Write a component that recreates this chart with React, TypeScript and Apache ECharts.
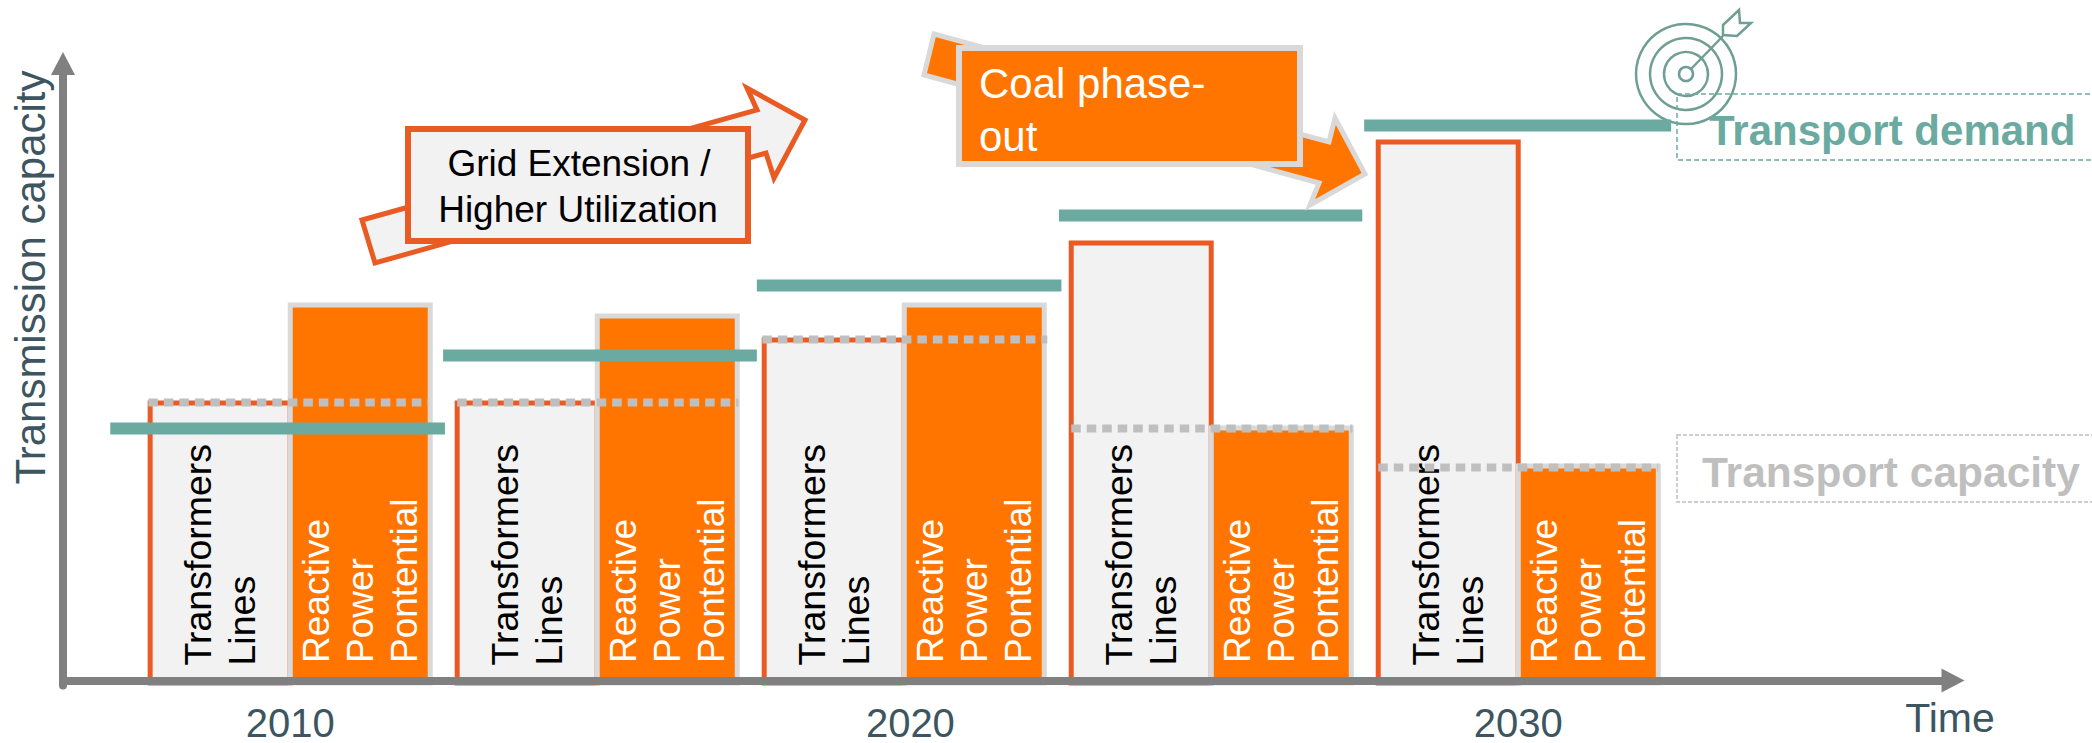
import React, { useEffect, useRef } from "react";
import * as echarts from "echarts";

const groupYears = [2010, 2015, 2020, 2025, 2030];
const lineValues = [285, 285, 348, 445, 546];
const reactiveValues = [383, 372, 383, 260, 222];
const lineLabels = ["Transformers\nLines", "Transformers\nLines", "Transformers\nLines", "Transformers\nLines", "Transformers\nLines"];
const reactiveLabels = [
  "Reactive\nPower\nPontential",
  "Reactive\nPower\nPontential",
  "Reactive\nPower\nPontential",
  "Reactive\nPower\nPontential",
  "Reactive\nPower\nPotential",
];
const demandValues = [257, 330, 400, 470, 560];
const demandFrom = [2007.07, 2012.49, 2017.6, 2022.52, 2027.49];
const demandTo = [2012.52, 2017.6, 2022.56, 2027.46, 2032.49];
const capacityValues = [283, 283, 346, 257, 218];
const capacityFrom = [2007.69, 2012.72, 2017.69, 2022.72, 2027.72];
const capacityTo = [2012.25, 2017.3, 2022.33, 2027.3, 2032.28];
const yearTicks = [2010, 2020.1, 2030];
const xName = "Time";
const yName = "Transmission capacity";

const segments = (from: number[], to: number[], vals: number[]) => {
  const out: (number | null)[][] = [];
  vals.forEach((v, i) => {
    out.push([from[i], v], [to[i], v], [to[i], null]);
  });
  return out;
};

const RED = "#EA5B24";
const ORANGE = "#FF7500";
const LIGHT = "#F2F2F2";
const BORDER = "#D9D9D9";
const TEAL = "#6BAAA0";
const GREY = "#BFBFBF";
const AXIS = "#808080";
const INK = "#3D5560";
const ICON = "#6F9E94";
const FONT = "'Liberation Sans', Arial, sans-serif";

const targetRing = (r: number) => ({
  type: "circle",
  shape: { cx: 1686, cy: 74, r },
  style: { fill: r === 50 ? "#fff" : "transparent", stroke: ICON, lineWidth: 2.5 },
});

const graphics: any[] = [
  { type: "rect", z: 1, shape: { x: 1677, y: 94, width: 430, height: 66 }, style: { fill: "transparent", stroke: TEAL, lineWidth: 1.5, lineDash: [5, 3] } },
  { type: "rect", z: 1, shape: { x: 1677, y: 435, width: 430, height: 67 }, style: { fill: "transparent", stroke: GREY, lineWidth: 1.5, lineDash: [4, 2] } },
  {
    type: "group", z: 2,
    children: [
      targetRing(50), targetRing(36), targetRing(22), targetRing(7),
      { type: "line", shape: { x1: 1691, y1: 69, x2: 1723, y2: 36 }, style: { stroke: ICON, lineWidth: 2.5 } },
      { type: "polygon", shape: { points: [[1723, 25], [1739, 10], [1740, 23], [1751, 23], [1737, 36], [1723, 35]] }, style: { fill: "#fff", stroke: ICON, lineWidth: 2.5 } },
    ],
  },
  { type: "text", z: 30, style: { x: 1709, y: 130, text: "Transport demand", fill: TEAL, font: `bold 42px ${FONT}`, verticalAlign: "middle", textAlign: "left" } },
  { type: "text", z: 30, style: { x: 1702, y: 472, text: "Transport capacity", fill: GREY, font: `bold 42.5px ${FONT}`, verticalAlign: "middle", textAlign: "left" } },
  {
    type: "polygon", z: 20,
    shape: { points: [[362, 220], [757, 110], [747, 88], [805, 120], [774, 178], [766, 153], [375, 263]] },
    style: { fill: LIGHT, stroke: RED, lineWidth: 5 },
  },
  { type: "rect", z: 21, shape: { x: 408, y: 129, width: 340, height: 112 }, style: { fill: LIGHT, stroke: RED, lineWidth: 6 } },
  { type: "text", z: 22, style: { x: 579, y: 163, text: "Grid Extension /", fill: "#000", font: `37px ${FONT}`, textAlign: "center", verticalAlign: "middle" } },
  { type: "text", z: 22, style: { x: 578, y: 209, text: "Higher Utilization", fill: "#000", font: `37px ${FONT}`, textAlign: "center", verticalAlign: "middle" } },
  {
    type: "polygon", z: 20,
    shape: { points: [[934, 34], [1329, 142], [1335, 118], [1365, 174], [1310, 205], [1319, 183], [924, 75]] },
    style: { fill: ORANGE, stroke: BORDER, lineWidth: 5 },
  },
  { type: "rect", z: 21, shape: { x: 959, y: 48, width: 341, height: 116 }, style: { fill: ORANGE, stroke: BORDER, lineWidth: 6 } },
  { type: "text", z: 22, style: { x: 979, y: 83, text: "Coal phase-", fill: "#fff", font: `42px ${FONT}`, textAlign: "left", verticalAlign: "middle" } },
  { type: "text", z: 22, style: { x: 979, y: 136, text: "out", fill: "#fff", font: `42px ${FONT}`, textAlign: "left", verticalAlign: "middle" } },
];

const option: any = {
  animation: false,
  backgroundColor: "#fff",
  textStyle: { fontFamily: FONT },
  grid: { left: 63, right: 2092 - 1953, top: 63.5, bottom: 57.5, containLabel: false },
  xAxis: {
    type: "value",
    min: 2006.3,
    max: 2037.08,
    z: 10,
    offset: -5,
    name: xName,
    nameLocation: "end",
    nameGap: -3,
    nameTextStyle: { color: INK, fontSize: 41, fontFamily: FONT, align: "center", verticalAlign: "top", padding: [17, 0, 0, 0] },
    axisLine: { show: true, onZero: false, symbol: ["none", "triangle"], symbolSize: [24, 23], lineStyle: { color: AXIS, width: 8 } },
    axisTick: { show: false },
    splitLine: { show: false },
    axisLabel: {
      customValues: yearTicks,
      formatter: (v: number) => String(Math.round(v)),
      color: INK,
      fontSize: 40,
      lineHeight: 32,
      fontFamily: FONT,
      margin: 26,
    },
  },
  yAxis: {
    type: "value",
    min: 0,
    max: 622,
    z: 10,
    name: yName,
    nameLocation: "end",
    nameRotate: 90,
    nameGap: -7,
    nameTextStyle: { color: INK, fontSize: 42, fontFamily: FONT, align: "right", verticalAlign: "bottom", padding: [0, 0, 12, 0] },
    axisLine: { show: true, symbol: ["none", "triangle"], symbolSize: [24, 23], lineStyle: { color: AXIS, width: 8 } },
    axisTick: { show: false },
    splitLine: { show: false },
    axisLabel: { show: false },
  },
  series: [
    {
      type: "bar",
      name: "Lines and transformers",
      data: groupYears.map((y, i) => [y, lineValues[i]]),
      barWidth: 145,
      barGap: "-3.4%",
      z: 2,
      itemStyle: { color: LIGHT, borderColor: RED, borderWidth: 5 },
      label: {
        show: true,
        position: "insideBottom",
        distance: 20,
        rotate: 90,
        align: "left",
        verticalAlign: "middle",
        formatter: (p: any) => lineLabels[p.dataIndex],
        color: "#000",
        fontSize: 37.5,
        lineHeight: 44,
        fontFamily: FONT,
      },
    },
    {
      type: "bar",
      name: "Reactive power potential",
      data: groupYears.map((y, i) => [y, reactiveValues[i]]),
      barWidth: 145,
      barGap: "-3.4%",
      z: 3,
      itemStyle: { color: ORANGE, borderColor: BORDER, borderWidth: 5 },
      label: {
        show: true,
        position: "insideBottom",
        distance: 22.5,
        rotate: 90,
        align: "left",
        verticalAlign: "middle",
        formatter: (p: any) => reactiveLabels[p.dataIndex],
        color: "#fff",
        fontSize: 37,
        lineHeight: 44,
        fontFamily: FONT,
      },
    },
    {
      type: "line",
      name: "Transport capacity",
      data: segments(capacityFrom, capacityTo, capacityValues),
      symbol: "none",
      z: 5,
      lineStyle: { color: GREY, width: 8, type: [9.5, 6], cap: "butt" },
    },
    {
      type: "line",
      name: "Transport demand",
      data: segments(demandFrom, demandTo, demandValues),
      symbol: "none",
      z: 6,
      lineStyle: { color: TEAL, width: 12, cap: "butt" },
    },
  ],
  graphic: graphics,
};

export default function App() {
  const ref = useRef<HTMLDivElement>(null);
  useEffect(() => {
    const chart = echarts.init(ref.current!, null, { renderer: "svg" });
    chart.setOption(option);
    return () => chart.dispose();
  }, []);
  return <div ref={ref} style={{ position: "absolute", left: 0, top: 0, width: 2092, height: 743, overflow: "hidden" }} />;
}
